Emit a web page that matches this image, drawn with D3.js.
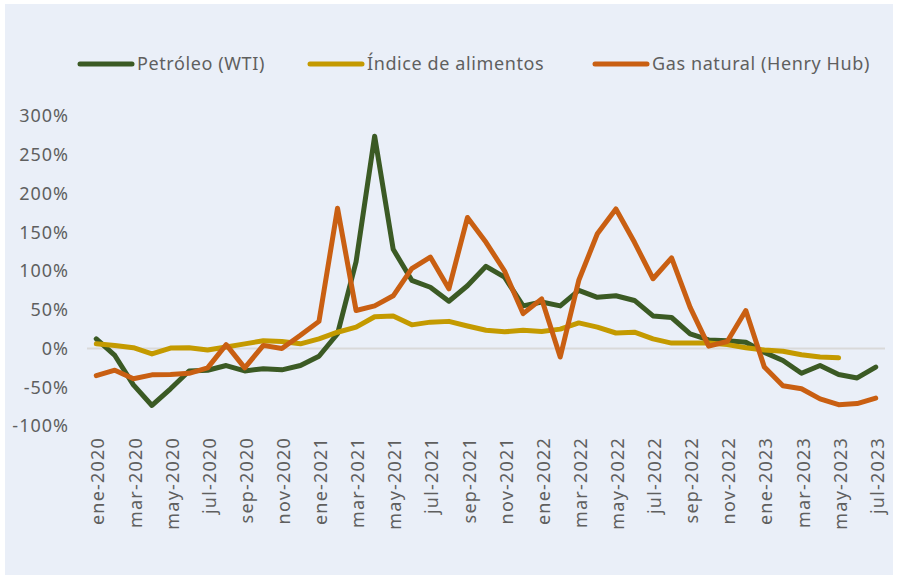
<!DOCTYPE html>
<html>
<head>
<meta charset="utf-8">
<script src="https://cdn.jsdelivr.net/npm/d3@7"></script>
<style>
 body { margin: 0; background: #fff; }
 text { font-family: "Noto Sans", sans-serif; fill: #5f5f5f; }
</style>
</head>
<body>
<svg width="898" height="580"></svg>
<script>
// Data
var meses = ["ene","feb","mar","abr","may","jun","jul","ago","sep","oct","nov","dic"];
var years = [2020, 2021, 2022, 2023];
var months = [];
years.forEach(function (y) {
  meses.forEach(function (m, i) {
    if (y < 2023 || i < 7) months.push(m + "-" + y);
  });
});

var petroleo = [12.5, -9, -47, -73.5, -52, -29, -28, -22, -29, -26, -27.5, -22,
  -10, 19, 112, 274, 128, 88, 79, 61, 81, 106, 92, 55,
  60, 55, 75, 66, 68, 62, 42, 40, 19, 11, 10, 8,
  -5, -15.5, -32, -22, -33.5, -38, -24];
var alimentos = [6, 4, 1, -7, 0.5, 1, -2, 2, 6, 10, 9, 6,
  12.5, 21, 27.5, 41, 42, 30.5, 34, 35, 29, 23.5, 21.5, 23.5,
  22, 25, 33, 27.5, 20, 21, 12.5, 7, 7, 7, 5, 1,
  -2, -3.5, -8, -11, -12];
var gas = [-35, -28, -39, -34, -33.5, -32, -25, 5, -25, 4, 0, 17,
  35, 181, 49, 55, 68, 103, 118, 77, 169, 137, 100, 45,
  64, -11, 88, 148, 180, 137, 90, 117, 53, 3, 9, 49,
  -24, -48, -52, -65, -72.5, -71, -64];

var yTicks = [-100, -50, 0, 50, 100, 150, 200, 250, 300];
var xTicks = months.filter(function (d, i) { return i % 2 == 0; });

var series = [
  { name: "Petróleo (WTI)", values: petroleo, color: "#3b5a24", lx: 80 },
  { name: "Índice de alimentos", values: alimentos, color: "#c49a00", lx: 310 },
  { name: "Gas natural (Henry Hub)", values: gas, color: "#c95f12", lx: 595 }
];

var svg = d3.select("svg");

// background panel
svg.append("rect")
  .attr("x", 5).attr("y", 4)
  .attr("width", 888).attr("height", 571)
  .attr("fill", "#eaeff8");

// Scales
var x = d3.scaleBand().domain(months).range([87, 885]);
var y = d3.scaleLinear().domain([-100, 300]).range([426, 116]);
var cx = function (d) { return x(d) + x.bandwidth() / 2; };

// Y axis
var yAxis = svg.append("g")
  .attr("transform", "translate(87,0)")
  .call(d3.axisLeft(y).tickValues(yTicks).tickSize(0).tickPadding(18)
    .tickFormat(function (d) { return d + "%"; }));
yAxis.select(".domain").remove();
yAxis.selectAll("text")
  .style("font-size", "18px")
  .style("letter-spacing", "1px")
  .style("font-family", "'Noto Sans', sans-serif")
  .attr("fill", "#5f5f5f");

// zero line
svg.append("line")
  .attr("x1", 87).attr("x2", 885)
  .attr("y1", y(0)).attr("y2", y(0))
  .attr("stroke", "#d9d9d9").attr("stroke-width", 2);

// X axis
var xAxis = svg.append("g")
  .attr("transform", "translate(0,426)")
  .call(d3.axisBottom(x).tickValues(xTicks).tickSize(0));
xAxis.select(".domain").remove();
xAxis.selectAll("text")
  .attr("transform", "rotate(-90)")
  .attr("text-anchor", "end")
  .attr("x", -11)
  .attr("y", 0)
  .attr("dy", "0.45em")
  .style("font-size", "18px")
  .style("letter-spacing", "1.2px")
  .style("font-family", "'Noto Sans', sans-serif")
  .attr("fill", "#5f5f5f");

// Lines
var line = d3.line()
  .defined(function (d) { return d != null; })
  .x(function (d, i) { return cx(months[i]); })
  .y(function (d) { return y(d); });

svg.append("g").selectAll("path")
  .data(series)
  .enter().append("path")
  .attr("d", function (d) { return line(d.values); })
  .attr("fill", "none")
  .attr("stroke", function (d) { return d.color; })
  .attr("stroke-width", 5)
  .attr("stroke-linejoin", "round")
  .attr("stroke-linecap", "round");

// Legend
var lg = svg.append("g").selectAll("g")
  .data(series)
  .enter().append("g")
  .attr("transform", function (d) { return "translate(" + d.lx + ",64)"; });
lg.append("line")
  .attr("x1", 0).attr("x2", 52)
  .attr("stroke", function (d) { return d.color; })
  .attr("stroke-width", 5)
  .attr("stroke-linecap", "round");
lg.append("text")
  .attr("x", 57)
  .attr("dy", "0.35em")
  .style("font-size", "18px")
  .style("letter-spacing", "0.6px")
  .text(function (d) { return d.name; });
</script>
</body>
</html>
